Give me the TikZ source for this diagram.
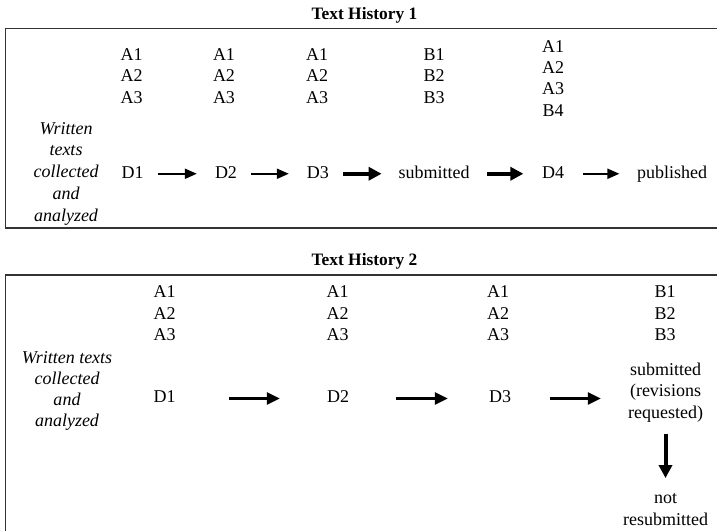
\documentclass[tikz,border=0pt]{standalone}
\usepackage{fontspec}
\setmainfont{Liberation Serif}
\usetikzlibrary{arrows.meta,calc}
\begin{document}
\begin{tikzpicture}[x=1pt,y=-1pt,
  txt/.style={inner sep=0pt,anchor=base,align=center,font=\fontsize{18}{21.8}\selectfont},
  txti/.style={txt,font=\fontsize{18}{21.6}\selectfont\itshape},
  dn/.style={txt,text height=12.5pt,text depth=4pt},
  ttl/.style={inner sep=0pt,anchor=base,font=\fontsize{17.4}{20}\selectfont\bfseries},
  frame/.style={draw=black!80,line width=1.4pt},
  arA/.style={line width=2pt,-{Triangle[length=12pt,width=10pt]}},
  arB/.style={line width=4pt,-{Triangle[length=13pt,width=13pt]}},
  arC/.style={line width=2.6pt,-{Triangle[length=13pt,width=12pt]}},
]
\useasboundingbox (0,0) rectangle (717,531);

% ---------------- Text History 1 ----------------
\node[ttl] (t1) at (364.5,19) {Text History 1};
\draw[frame] (717,28.5) -- (5.5,28.5) -- (5.5,228) -- (717,228);

% multi-line nodes: base anchor = baseline of the last line
\node[txt] (c1) at (131.7,103.6) {A1\\A2\\A3};
\node[txt] (c2) at (224,103.6) {A1\\A2\\A3};
\node[txt] (c3) at (317,103.6) {A1\\A2\\A3};
\node[txt] (c4) at (434,103.6) {B1\\B2\\B3};
\node[txt,font=\fontsize{18}{21.1}\selectfont] (c5) at (553,116) {A1\\A2\\A3\\B4};

\node[txti,font=\fontsize{18}{21.75}\selectfont\itshape] (w1) at (66,221) {Written\\texts\\collected\\and\\analyzed};

\node[dn] (d1) at (132.6,178) {D1};
\node[dn] (d2) at (226,178) {D2};
\node[dn] (d3) at (317.8,178) {D3};
\node[dn] (s1) at (434,178) {submitted};
\node[dn] (d4) at (553,178) {D4};
\node[dn] (p1) at (672,178) {published};

\draw[arA] ([xshift=14pt]d1.east) -- ([xshift=-18pt]d2.west);
\draw[arA] ([xshift=13.6pt]d2.east) -- ([xshift=-17.8pt]d3.west);
\draw[arB] ([xshift=14.2pt]d3.east) -- ([xshift=-16.7pt]s1.west);
\draw[arB] ([xshift=17.5pt]s1.east) -- ([xshift=-18.4pt]d4.west);
\draw[arA] ([xshift=19pt]d4.east) -- ([xshift=-17.4pt]p1.west);

% ---------------- Text History 2 ----------------
\node[ttl] (t2) at (364.5,265) {Text History 2};
\draw[frame] (717,275) -- (5.5,275) -- (5.5,531);

\node[txt,font=\fontsize{18}{21.5}\selectfont] (g1) at (164.6,340.7) {A1\\A2\\A3};
\node[txt,font=\fontsize{18}{21.5}\selectfont] (g2) at (337.5,340.7) {A1\\A2\\A3};
\node[txt,font=\fontsize{18}{21.5}\selectfont] (g3) at (498,340.7) {A1\\A2\\A3};
\node[txt,font=\fontsize{18}{21.5}\selectfont] (g4) at (665,340.7) {B1\\B2\\B3};

\node[txti,font=\fontsize{18}{21.3}\selectfont\itshape] (w2) at (67,426.9) {Written texts\\collected\\and\\analyzed};

\node[dn] (e1) at (164.6,402.7) {D1};
\node[dn] (e2) at (338,402.7) {D2};
\node[dn] (e3) at (500,402.7) {D3};
\node[txt] (s2) at (665.5,418.6) {submitted\\(revisions\\requested)};
\node[txt,font=\fontsize{18}{22}\selectfont] (nr) at (665.5,525) {not\\resubmitted};

\draw[arC] ([xshift=53pt]e1.east) -- ([xshift=-47pt]e2.west);
\draw[arC] ([xshift=46.5pt]e2.east) -- ([xshift=-41pt]e3.west);
\draw[arC] ([xshift=38.6pt]e3.east) -- ($(e3.east -| s2.west)+(-27,0)$);
\draw[arB] ([yshift=-11pt]s2.south) -- ([yshift=14.6pt]s2.south |- nr.north);
\end{tikzpicture}
\end{document}
